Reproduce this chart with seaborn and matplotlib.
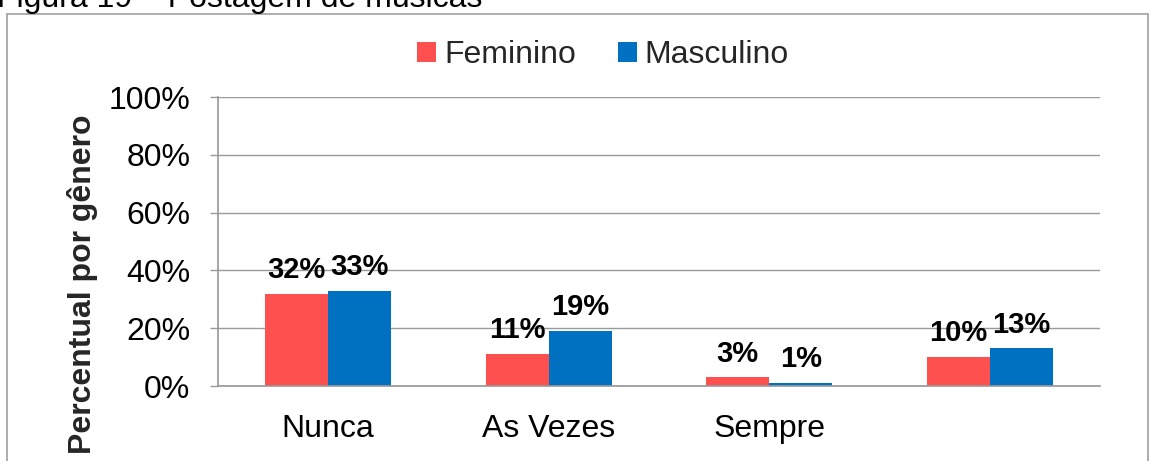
import matplotlib
matplotlib.use("Agg")
import matplotlib.pyplot as plt
from matplotlib.patches import Rectangle
from matplotlib.ticker import PercentFormatter
import pandas as pd
import seaborn as sns

# chart data
categorias = ["Nunca", "As Vezes", "Sempre", ""]
generos = ["Feminino", "Masculino"]
feminino = [0.32, 0.11, 0.03, 0.10]
masculino = [0.33, 0.19, 0.01, 0.13]
cores = ["#FF5050", "#0070C0"]
yticks = [0, 0.2, 0.4, 0.6, 0.8, 1.0]

df = pd.DataFrame({
    "categoria": categorias * 2,
    "genero": [generos[0]] * len(categorias) + [generos[1]] * len(categorias),
    "valor": feminino + masculino,
})

sns.set_theme(style="white")
plt.rcParams["font.family"] = ["Liberation Sans", "DejaVu Sans"]

fig = plt.figure(figsize=(11.51, 4.61), dpi=100)
ax = fig.add_axes([218 / 1151, 1 - 386 / 461, 882 / 1151, 289 / 461])

sns.barplot(data=df, x="categoria", y="valor", hue="genero", order=categorias,
            hue_order=generos, palette=cores, width=0.572, gap=0, saturation=1,
            linewidth=0, ax=ax, legend=True)

for cont in ax.containers:
    ax.bar_label(cont, labels=[f"{v * 100:.0f}%" for v in cont.datavalues],
                 padding=7, fontsize=21, fontweight="bold", color="black")

ax.set_ylim(0, 1)
ax.set_xlim(-0.5, len(categorias) - 0.5)
ax.set_yticks(yticks)
ax.yaxis.set_major_formatter(PercentFormatter(1.0, decimals=0))
ax.grid(axis="y", color="#9a9a9a", linewidth=1)
ax.set_axisbelow(True)
for s in ["top", "right"]:
    ax.spines[s].set_visible(False)
ax.spines["left"].set_color("#9a9a9a")
ax.spines["bottom"].set_color("#9a9a9a")
ax.tick_params(axis="y", left=True, length=6, width=1, color="#9a9a9a",
               pad=14, labelsize=23, labelcolor="black")
ax.tick_params(axis="x", bottom=False, pad=14, labelsize=23, labelcolor="black")
ax.set_xlabel("")
ax.set_ylabel("")

leg = ax.legend(loc="center", bbox_to_anchor=(603 / 1151, 1 - 55 / 461),
                bbox_transform=fig.transFigure, ncol=2, frameon=False,
                fontsize=23, handlelength=0.6, handleheight=0.6,
                handletextpad=0.25, columnspacing=1.3)

fig.text(83 / 1151, 1 - 284 / 461, "Percentual por gênero", rotation=90,
         ha="center", va="center", fontsize=23, fontweight="bold")

# caption partially cut at top
fig.text(-3 / 1151, 1 - 7 / 461, "Figura 19 \u2013 Postagem de músicas",
         ha="left", va="baseline", fontsize=23, color="black")

# outer chart border
fig.patches.append(Rectangle((7 / 1151, -0.1), (1148 - 7) / 1151, 1.1 - 14 / 461,
                             transform=fig.transFigure, fill=False,
                             edgecolor="#a0a0a0", linewidth=1.2))

fig.savefig("out.png", dpi=100)
